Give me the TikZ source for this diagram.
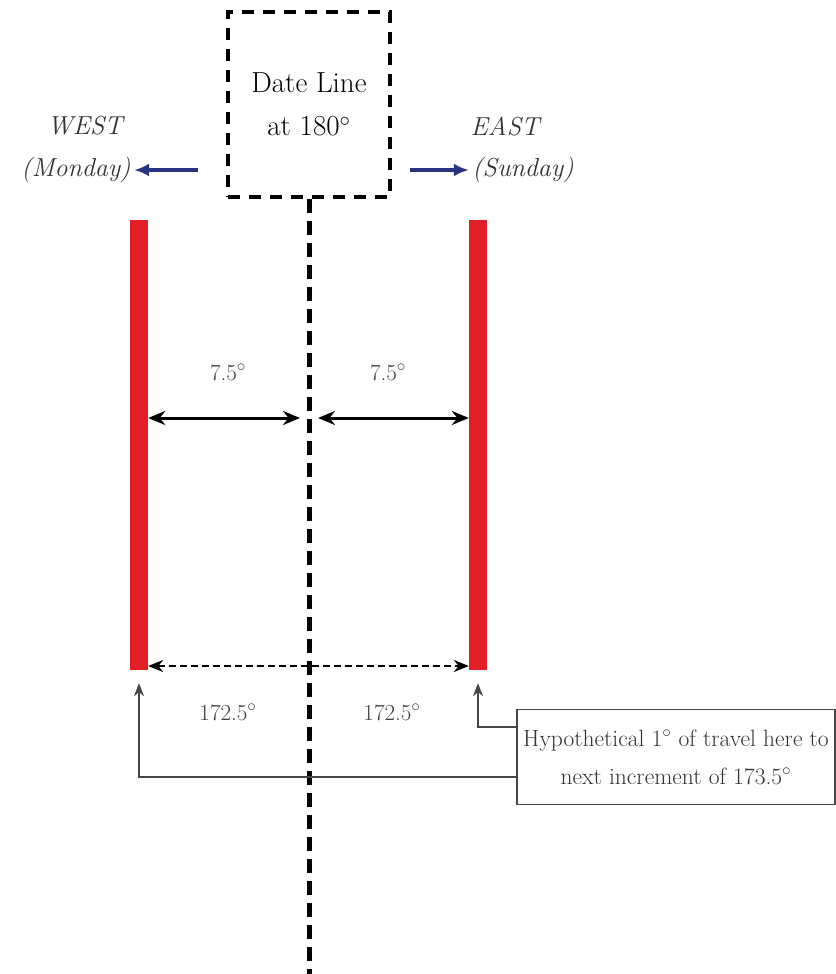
\documentclass[tikz,border=0pt]{standalone}
\usetikzlibrary{arrows.meta,positioning}
\definecolor{barred}{RGB}{226,30,38}
\definecolor{arrowblue}{RGB}{40,52,130}
\definecolor{notegray}{RGB}{70,70,70}
\tikzset{
  datebox/.style={draw=black, line width=4pt, dash pattern=on 12pt off 9pt,
    minimum width=162pt, minimum height=185pt, align=center,
    font=\fontsize{29}{43}\selectfont},
  dirlabel/.style={font=\fontsize{26}{30}\selectfont\itshape, text=black!80},
  redbar/.style={fill=barred, minimum width=18pt, minimum height=450pt, inner sep=0pt},
  bluearrow/.style={-{Latex[length=15pt,width=13pt]}, line width=3.5pt, draw=arrowblue},
  dateline/.style={line width=5pt, dash pattern=on 14pt off 8pt},
  spanarrow/.style={{Stealth[length=17pt,width=14pt]}-{Stealth[length=17pt,width=14pt]}, line width=3pt},
  fullarrow/.style={{Stealth[length=15pt,width=12pt]}-{Stealth[length=15pt,width=12pt]}, line width=2pt,
    dash pattern=on 7pt off 4pt},
  deglabel/.style={font=\fontsize{23}{28}\selectfont, text=black!75},
  notebox/.style={draw=notegray, line width=1.8pt, minimum width=318pt, minimum height=95pt,
    inner xsep=4pt, align=center, font=\fontsize{23.5}{38}\selectfont, text=black!80},
  noteline/.style={-{Stealth[length=13pt,width=10pt]}, line width=2pt, draw=notegray}
}
\begin{document}
\begin{tikzpicture}[x=1pt,y=-1pt]
\fill[white] (0,0) rectangle (835,974);
\useasboundingbox (0,0) rectangle (835,974);
% date line box and labels
\node[datebox] (date) at (309,104.5) {Date Line\\at 180$^{\circ}$};
\node[dirlabel] (west) at (85,126) {WEST};
\node[dirlabel] (mon) at (76,170) {(Monday)};
\node[dirlabel] (east) at (505,126) {EAST};
\node[dirlabel] (sun) at (523,170) {(Sunday)};
\draw[bluearrow] ([xshift=-28pt]date.west |- mon) -- (mon.east);
\draw[bluearrow] ([xshift=18pt]date.east |- sun) -- (sun.west);
% the 180 degree line
\coordinate (dlend) at (309,974);
\draw[dateline] (date.south) -- (dlend);
% red bars
\node[redbar] (wbar) at (139,445) {};
\node[redbar] (ebar) at (478,445) {};
% 7.5 degree spans
\coordinate (mid) at (309,418);
\draw[spanarrow] (wbar.east |- mid) -- ([xshift=-9pt]mid);
\draw[spanarrow] ([xshift=9pt]mid) -- (ebar.west |- mid);
\node[deglabel] (lw) at (228,372) {7.5$^{\circ}$};
\node[deglabel] (le) at (388,372) {7.5$^{\circ}$};
% 172.5 degree span
\coordinate (low) at (309,666);
\draw[fullarrow] (wbar.east |- low) -- (ebar.west |- low);
\node[deglabel] (fw) at (228,712) {172.5$^{\circ}$};
\node[deglabel] (fe) at (392,712) {172.5$^{\circ}$};
% note
\node[notebox] (note) at (676,757) {Hypothetical 1$^{\circ}$ of travel here to\\next increment of 173.5$^{\circ}$};
\draw[noteline] ([yshift=30pt]note.west) -| ([yshift=-13pt]ebar.south);
\draw[noteline] ([yshift=-20pt]note.west) -| ([yshift=-13pt]wbar.south);
\end{tikzpicture}
\end{document}
